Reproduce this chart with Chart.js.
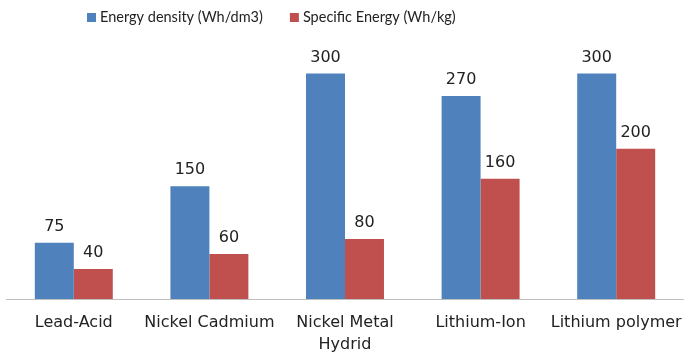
<!DOCTYPE html>
<html>
<head>
  <title>Battery energy comparison</title>
  <script src="https://cdn.jsdelivr.net/npm/chart.js"></script>
  <style>
    html, body { margin: 0; padding: 0; background: #fff; }
    #wrap { width: 684px; height: 354px; }
  </style>
</head>
<body>
  <div id="wrap"><canvas id="batteryChart" width="684" height="354"></canvas></div>

  <script>
    const categories = ['Lead-Acid', 'Nickel Cadmium', ['Nickel Metal', 'Hydrid'], 'Lithium-Ion', 'Lithium polymer'];
    const seriesNames = ['Energy density (Wh/dm3)', 'Specific Energy (Wh/kg)'];
    const energyDensity = [75, 150, 300, 270, 300];
    const specificEnergy = [40, 60, 80, 160, 200];
    const seriesColors = ['#4F81BD', '#C0504D'];

    const LABEL_FONT = '"DejaVu Sans", sans-serif';
    const LEGEND_FONT = 'Lato, sans-serif';
    const TEXT = '#222222';

    // value labels above each bar
    const barLabels = {
      id: 'barLabels',
      afterDatasetsDraw(chart) {
        const ctx = chart.ctx;
        ctx.save();
        ctx.font = '16px ' + LABEL_FONT;
        ctx.fillStyle = TEXT;
        ctx.textAlign = 'center';
        ctx.textBaseline = 'alphabetic';
        chart.data.datasets.forEach((ds, i) => {
          chart.getDatasetMeta(i).data.forEach((bar, j) => {
            ctx.fillText(ds.data[j], bar.x, bar.y - 12);
          });
        });
        ctx.restore();
      }
    };

    // legend drawn by hand so spacing matches the original
    const topLegend = {
      id: 'topLegend',
      afterDraw(chart) {
        const ctx = chart.ctx;
        ctx.save();
        ctx.font = '14.5px ' + LEGEND_FONT;
        ctx.textBaseline = 'middle';
        ctx.textAlign = 'left';
        let x = 87;
        const y = 17;
        chart.data.datasets.forEach((ds, i) => {
          ctx.fillStyle = ds.backgroundColor;
          ctx.fillRect(x, y - 4, 9, 9);
          ctx.fillStyle = TEXT;
          ctx.fillText(ds.label, x + 13, y);
          x += 13 + ctx.measureText(ds.label).width + 27;
        });
        ctx.restore();
      }
    };

    const ctx = document.getElementById('batteryChart').getContext('2d');
    new Chart(ctx, {
      type: 'bar',
      data: {
        labels: categories,
        datasets: [
          { label: seriesNames[0], data: energyDensity, backgroundColor: seriesColors[0] },
          { label: seriesNames[1], data: specificEnergy, backgroundColor: seriesColors[1] }
        ]
      },
      options: {
        responsive: false,
        animation: false,
        layout: { padding: { top: 36, left: 6, right: -2, bottom: 0 } },
        datasets: { bar: { categoryPercentage: 0.575, barPercentage: 1 } },
        plugins: {
          legend: { display: false },
          tooltip: { enabled: false }
        },
        scales: {
          x: {
            grid: { display: false, drawTicks: false },
            border: { display: true, color: '#BFBFBF', width: 1 },
            ticks: {
              color: TEXT,
              padding: 13,
              maxRotation: 0,
              autoSkip: false,
              font: { family: LABEL_FONT, size: 16, lineHeight: 1.375 }
            },
            afterFit(scale) {
              scale.height = 55;
              scale.paddingLeft = 0;
              scale.paddingRight = 0;
            }
          },
          y: { display: false, min: 0, max: 350 }
        }
      },
      plugins: [barLabels, topLegend]
    });
  </script>
</body>
</html>
